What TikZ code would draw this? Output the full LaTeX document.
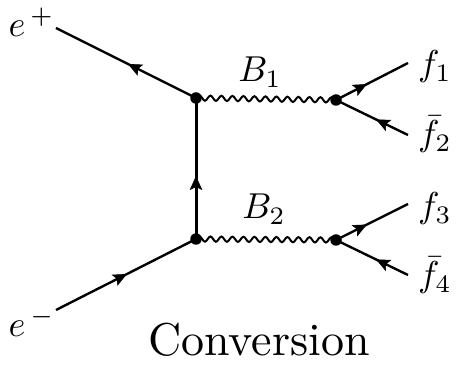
\documentclass[tikz,border=0pt]{standalone}
\usetikzlibrary{decorations.pathmorphing,decorations.markings,arrows.meta}
\tikzset{
  fermion/.style={line width=2.4pt,postaction={decorate},decoration={markings,mark=at position #1 with {\arrow[line width=0.6pt]{Stealth[length=14pt,width=12.5pt,inset=3pt]}}}},
  heavy/.style={line width=3pt},
  boson/.style={line width=2pt,decorate,decoration={snake,segment length=11pt,amplitude=2.6pt}},
  vertex/.style={circle,fill=black,inner sep=0pt,minimum size=11.5pt},
  lab/.style={inner sep=0pt,anchor=base,scale=3.6},
  leptonlab/.style={inner sep=0pt,anchor=base west,scale=3.6},
}
\begin{document}
\begin{tikzpicture}[x=1pt,y=-1pt]
\useasboundingbox (0,0) rectangle (456,366);
\node[vertex] (a) at (196,98) {};
\node[vertex] (b) at (196,239) {};
\node[vertex] (c) at (336,100) {};
\node[vertex] (d) at (336,240) {};
\coordinate (ep) at (56,28);
\coordinate (em) at (56,310);
\coordinate (f1e) at (408,63);
\coordinate (f2e) at (408,135);
\coordinate (f3e) at (408,204);
\coordinate (f4e) at (408,275);
\draw[fermion=0.486] (a.center) -- (ep);
\draw[fermion=0.507] (em) -- (b.center);
\draw[fermion=0.447,heavy] (b.center) -- (a.center);
\draw[fermion=0.43] (c.center) -- (f1e);
\draw[fermion=0.444] (f2e) -- (c.center);
\draw[fermion=0.43] (d.center) -- (f3e);
\draw[fermion=0.444] (f4e) -- (d.center);
\draw[boson] (a.center) -- (c.center);
\draw[boson] (b.center) -- (d.center);
\node[leptonlab] (tep) at (8,37) {$e^{\,+}$};
\node[leptonlab] (tem) at (8,337) {$e^{\,-}$};
\node[lab] (tb1) at (260,82) {$B_1$};
\node[lab] (tb2) at (264,219) {$B_2$};
\node[lab] (tf1) at (435,76) {$f_1$};
\node[lab] (tf2) at (435,146) {$\bar f_2$};
\node[lab] (tf3) at (435,218) {$f_3$};
\node[lab] (tf4) at (435,287) {$\bar f_4$};
\node[inner sep=0pt,anchor=base,scale=4.6] (cap) at (259,356) {Conversion};
\end{tikzpicture}
\end{document}
